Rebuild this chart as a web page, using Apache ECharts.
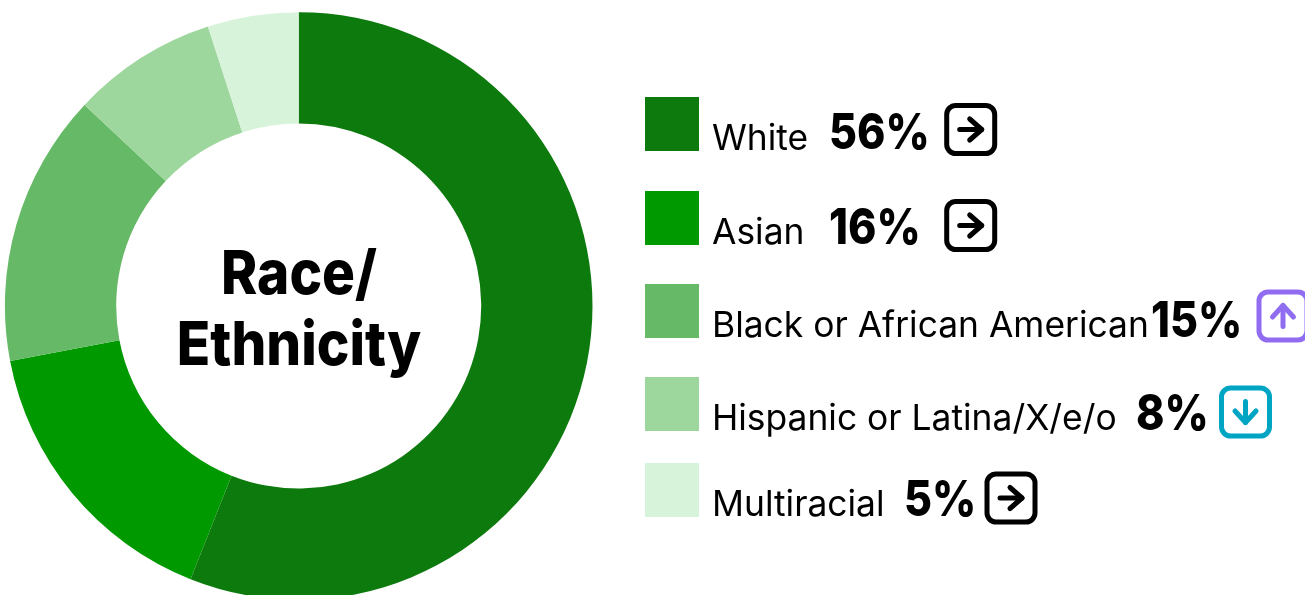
<!DOCTYPE html>
<html>
<head>
<meta charset="utf-8">
<style>html,body{margin:0;padding:0;background:#fff;overflow:hidden}#chart{width:1305px;height:595px}</style>
<script src="https://cdn.jsdelivr.net/npm/echarts@6/dist/echarts.min.js"></script>
</head>
<body>
<div id="chart"></div>
<script>
// Race/ethnicity shares and their year-over-year direction
const categories = ['White', 'Asian', 'Black or African American', 'Hispanic or Latina/X/e/o', 'Multiracial'];
const shares = [56, 16, 15, 8, 5];
const trends = ['flat', 'flat', 'up', 'down', 'flat'];
const sliceColors = ['#0d7a0d', '#009900', '#66b966', '#9ed79e', '#d7f3d9'];

// Row layout for the key
const swatchTops = [97, 191, 284, 377, 463];
const valueBottoms = [159, 254, 347, 440, 526];
const valueLefts = [829, 829, 1151, 1136, 904];
const iconCenters = [970.7, 970.7, 1283, 1245.5, 1011];
const iconMiddles = [129.5, 225.5, 316, 412, 498];
const trendColors = { flat: '#000000', up: '#8f6cf0', down: '#00a5c4' };

const FONT = 'Inter, "Noto Sans", sans-serif';

function arrowPoints(kind) {
  if (kind === 'up') return { shaft: [[0, 10.5], [0, -10.5]], head: [[-10.5, 1], [0, -10.5], [10.5, 1]] };
  if (kind === 'down') return { shaft: [[0, -10.5], [0, 10.5]], head: [[-10.5, -1], [0, 10.5], [10.5, -1]] };
  return { shaft: [[-11, 0], [11, 0]], head: [[-1, -10.5], [11, 0], [-1, 10.5]] };
}

function trendIcon(i) {
  const color = trendColors[trends[i]];
  const pts = arrowPoints(trends[i]);
  const line = { stroke: color, lineWidth: 5, lineCap: 'round', lineJoin: 'round', fill: null };
  return {
    type: 'group', x: iconCenters[i], y: iconMiddles[i],
    children: [
      { type: 'rect', shape: { x: -24, y: -24, width: 48, height: 48, r: 9 }, style: { stroke: color, lineWidth: 5, fill: '#fff' } },
      { type: 'polyline', shape: { points: pts.shaft }, style: line },
      { type: 'polyline', shape: { points: pts.head }, style: line }
    ]
  };
}

function valueText(i) {
  return {
    type: 'text', x: valueLefts[i], y: valueBottoms[i], scaleX: 0.86,
    style: { text: shares[i] + '%', font: '800 50px ' + FONT, fill: '#000', textAlign: 'left', textVerticalAlign: 'bottom' }
  };
}

const chart = echarts.init(document.getElementById('chart'), null, { renderer: 'canvas' });
chart.setOption({
  animation: false,
  backgroundColor: '#fff',
  color: sliceColors,
  legend: categories.map((name, i) => ({
    data: [name],
    orient: 'horizontal',
    left: 645,
    top: swatchTops[i],
    padding: 0,
    icon: 'rect',
    itemWidth: 54,
    itemHeight: 54,
    selectedMode: false,
    formatter: n => '{t|' + n + '}',
    textStyle: {
      color: '#000',
      rich: { t: { fontFamily: FONT, fontSize: 35.4, fontWeight: 400, color: '#000', padding: [31, 0, 0, 8] } }
    }
  })),
  series: [{
    type: 'pie',
    silent: true,
    center: [298.7, 306],
    radius: [182.5, 293.8],
    startAngle: 90,
    clockwise: true,
    label: { show: false },
    labelLine: { show: false },
    data: categories.map((name, i) => ({ name, value: shares[i] }))
  }],
  graphic: [
    {
      type: 'text', x: 299, y: 311.5, scaleX: 0.9,
      style: {
        text: 'Race/\nEthnicity', font: '800 61px ' + FONT, lineHeight: 71, fill: '#000',
        textAlign: 'center', textVerticalAlign: 'middle'
      }
    },
    ...categories.map((_, i) => valueText(i)),
    ...categories.map((_, i) => trendIcon(i))
  ]
});
</script>
</body>
</html>
